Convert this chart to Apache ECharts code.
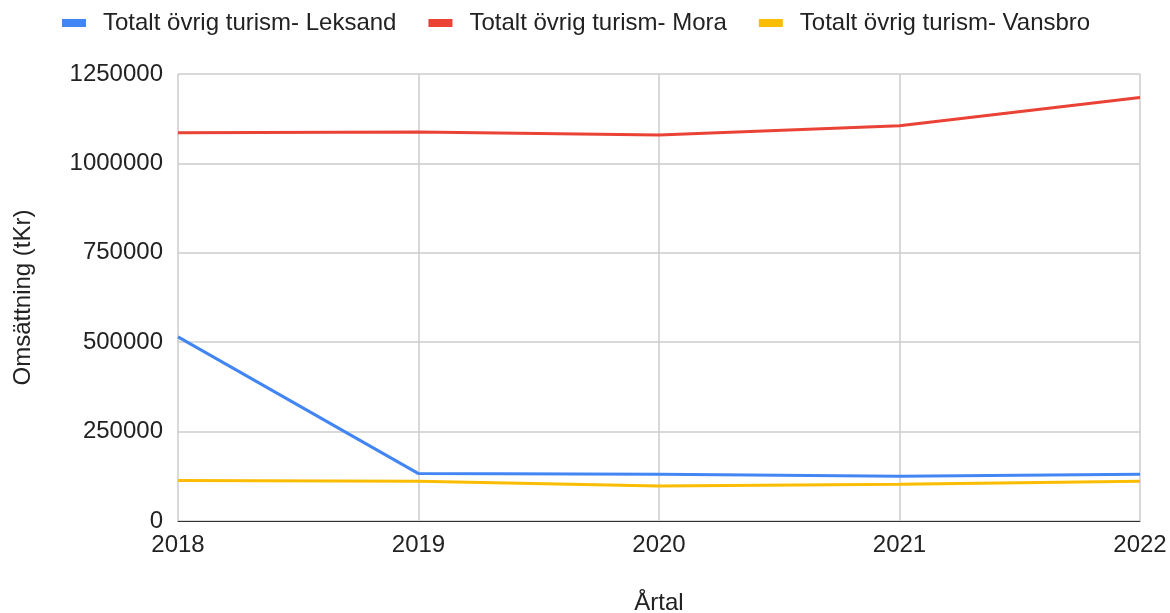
<!DOCTYPE html>
<html>
<head>
<meta charset="utf-8">
<script src="https://cdn.jsdelivr.net/npm/echarts@6/dist/echarts.min.js"></script>
<style>
  html, body { margin: 0; padding: 0; background: #fff; }
  #chart { width: 1170px; height: 613px; }
</style>
</head>
<body>
<div id="chart"></div>
<script>
var chart = echarts.init(document.getElementById('chart'));

// data
const years = ['2018', '2019', '2020', '2021', '2022'];
const leksand = [515000, 132500, 130500, 125000, 131000];
const mora = [1085500, 1088000, 1079500, 1105000, 1184500];
const vansbro = [113000, 111000, 98000, 102500, 111000];

const font = 'Liberation Sans, Arial, sans-serif';

function line(name, data, color) {
  return {
    name: name,
    type: 'line',
    data: data,
    symbol: 'none',
    lineStyle: { width: 3, color: color },
    itemStyle: { color: color }
  };
}

const options = {
  animation: false,
  textStyle: { fontFamily: font },
  legend: {
    top: 6,
    left: 57,
    itemWidth: 24,
    itemHeight: 8,
    itemGap: 32,
    icon: 'rect',
    textStyle: { fontSize: 24, color: '#222', fontFamily: font, padding: [0, 0, 0, 12] }
  },
  grid: { left: 178, right: 30, top: 74, bottom: 92, outerBoundsMode: 'none' },
  xAxis: {
    type: 'category',
    data: years,
    boundaryGap: false,
    name: 'Årtal',
    nameLocation: 'middle',
    nameGap: 70,
    nameTextStyle: { fontSize: 24, color: '#222', fontFamily: font },
    axisLine: { lineStyle: { color: '#333', width: 1 } },
    axisTick: { show: false },
    axisLabel: { fontSize: 24, color: '#222', margin: 12, fontFamily: font, showMinLabel: true, showMaxLabel: true },
    splitLine: { show: true, lineStyle: { color: '#ccc', width: 1.5 } }
  },
  yAxis: {
    type: 'value',
    min: 0,
    max: 1250000,
    interval: 250000,
    name: 'Omsättning (tKr)',
    nameLocation: 'middle',
    nameGap: 143,
    nameTextStyle: { fontSize: 24, color: '#222', fontFamily: font },
    axisLine: { show: false },
    axisTick: { show: false },
    axisLabel: {
      fontSize: 24, color: '#222', margin: 15, fontFamily: font,
      formatter: function (v) { return String(v); }
    },
    splitLine: { lineStyle: { color: '#ccc', width: 1.5 } }
  },
  series: [
    line('Totalt övrig turism- Leksand', leksand, '#4285F4'),
    line('Totalt övrig turism- Mora', mora, '#EA4335'),
    line('Totalt övrig turism- Vansbro', vansbro, '#FBBC04')
  ]
};
chart.setOption(options);
</script>
</body>
</html>
